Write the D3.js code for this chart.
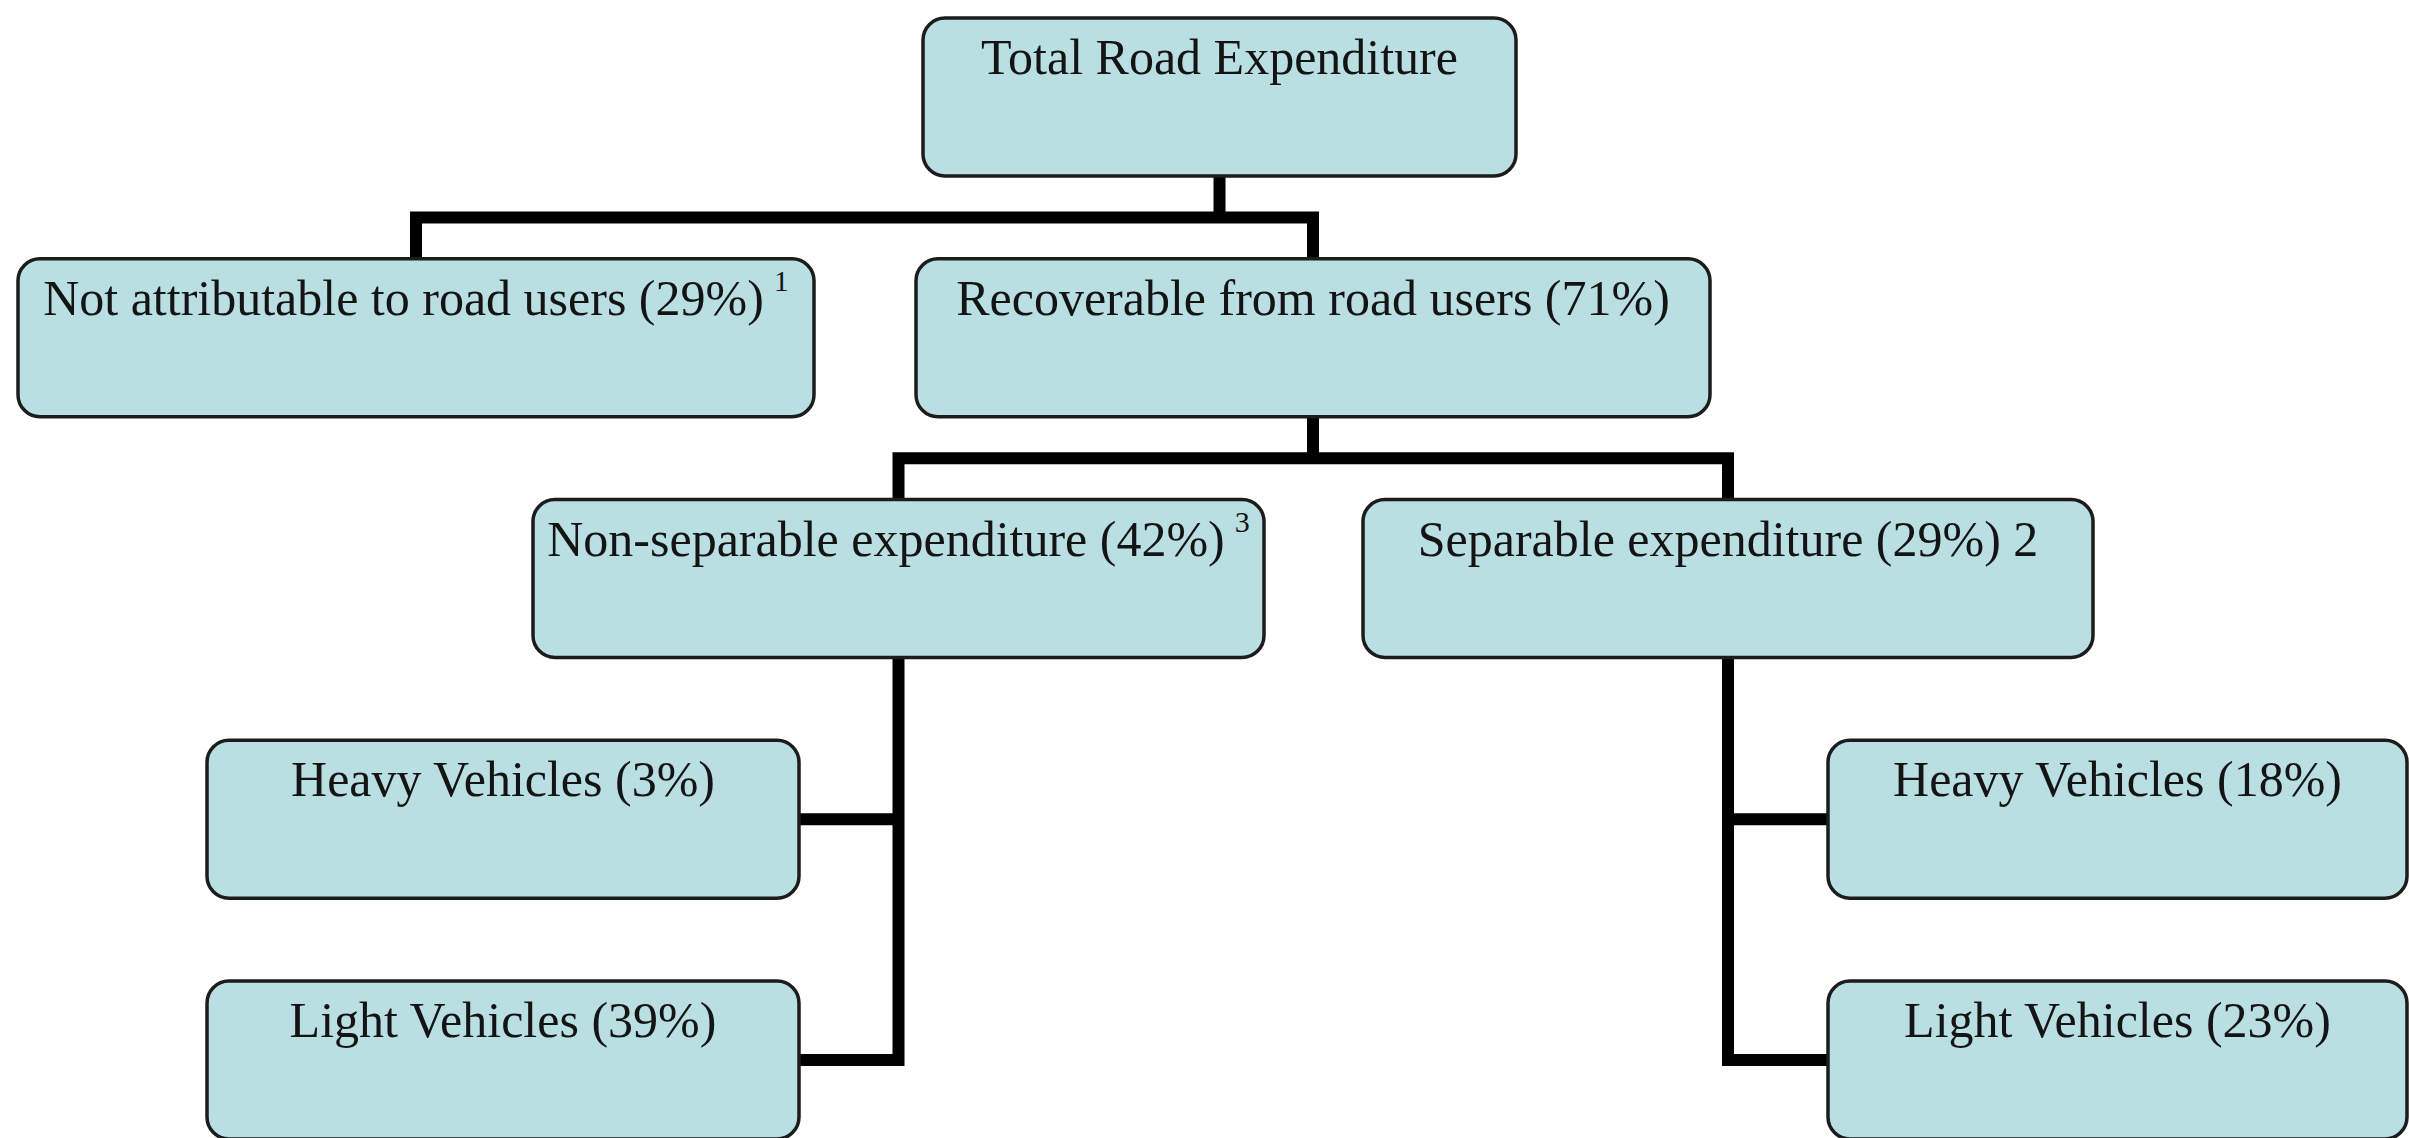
<!DOCTYPE html>
<html>
<head>
<meta charset="utf-8">
<script src="https://cdn.jsdelivr.net/npm/d3@7"></script>
<style>
   html, body { margin: 0; padding: 0; background: #fff; }
   svg { display: block; }
</style>
</head>
<body>
<svg width="2409" height="1138"></svg>
<script>
// DATA
var nodeIds = ['total', 'notAttr', 'recov', 'nonSep', 'sep', 'heavyNS', 'lightNS', 'heavyS', 'lightS'];
var nodeParents = ['', 'total', 'total', 'recov', 'recov', 'nonSep', 'nonSep', 'sep', 'sep'];
var nodeLabels = [
   'Total Road Expenditure',
   'Not attributable to road users',
   'Recoverable from road users',
   'Non-separable expenditure',
   'Separable expenditure',
   'Heavy Vehicles',
   'Light Vehicles',
   'Heavy Vehicles',
   'Light Vehicles'
];
var nodeShares = [null, 29, 71, 42, 29, 3, 39, 18, 23];
var nodeNotes = ['', '1', '', '3', '2', '', '', '', ''];
var nodeNoteIsSup = [false, true, false, true, false, false, false, false, false];

(function () {
   var svg = d3.select('svg');

   // LAYOUT (box columns and rows, kept apart from the data)
   var boxLayout = {
      total:   {x0: 923,  x1: 1516, row: 0},
      notAttr: {x0: 18,   x1: 814,  row: 1},
      recov:   {x0: 916,  x1: 1710, row: 1},
      nonSep:  {x0: 533,  x1: 1264, row: 2},
      sep:     {x0: 1363, x1: 2093, row: 2},
      heavyNS: {x0: 207,  x1: 799,  row: 3},
      lightNS: {x0: 207,  x1: 799,  row: 4},
      heavyS:  {x0: 1828, x1: 2407, row: 3},
      lightS:  {x0: 1828, x1: 2407, row: 4}
   };
   // children of these nodes hang off a side stem instead of a bar
   var hangingParents = ['nonSep', 'sep'];

   var boxHeight = 158;
   var rowScale = d3.scaleLinear().domain([0, 4]).range([18, 981]);

   var table = nodeIds.map(function (id, i) {
      return {
         id: id,
         parent: nodeParents[i] || null,
         label: nodeLabels[i],
         share: nodeShares[i],
         note: nodeNotes[i],
         sup: nodeNoteIsSup[i]
      };
   });

   var root = d3.stratify()
      .id(function (d) { return d.id; })
      .parentId(function (d) { return d.parent; })(table);

   root.each(function (n) {
      var b = boxLayout[n.id];
      n.x0 = b.x0;
      n.x1 = b.x1;
      n.cx = (b.x0 + b.x1) / 2;
      n.top = rowScale(b.row);
      n.bottom = n.top + boxHeight;
      n.cy = n.top + boxHeight / 2;
   });

   // CONNECTORS
   var connectors = svg.append('g')
      .attr('fill', 'none')
      .attr('stroke', '#000')
      .attr('stroke-width', 12)
      .attr('stroke-linejoin', 'miter');

   root.descendants().filter(function (n) { return n.children; }).forEach(function (p) {
      var kids = p.children, path = d3.path();

      if (hangingParents.indexOf(p.id) >= 0) {
         var last = kids[kids.length - 1];
         var toRight = last.cx > p.cx;
         path.moveTo(p.cx, p.bottom);
         path.lineTo(p.cx, last.cy);
         path.lineTo(toRight ? last.x0 : last.x1, last.cy);
         kids.slice(0, -1).forEach(function (k) {
            path.moveTo(p.cx, k.cy);
            path.lineTo(toRight ? k.x0 : k.x1, k.cy);
         });
      } else {
         var midY = (p.bottom + kids[0].top) / 2;
         var first = kids[0], lastK = kids[kids.length - 1];
         path.moveTo(p.cx, p.bottom);
         path.lineTo(p.cx, midY);
         path.moveTo(first.cx, first.top);
         path.lineTo(first.cx, midY);
         path.lineTo(lastK.cx, midY);
         path.lineTo(lastK.cx, lastK.top);
         kids.slice(1, -1).forEach(function (k) {
            path.moveTo(k.cx, midY);
            path.lineTo(k.cx, k.top);
         });
      }

      connectors.append('path').attr('d', path.toString());
   });

   // BOXES
   var nodes = svg.append('g').selectAll('.node')
      .data(root.descendants())
      .enter().append('g')
      .attr('class', 'node');

   nodes.append('rect')
      .attr('x', function (d) { return d.x0; })
      .attr('y', function (d) { return d.top; })
      .attr('width', function (d) { return d.x1 - d.x0; })
      .attr('height', boxHeight)
      .attr('rx', 22)
      .attr('ry', 22)
      .attr('fill', '#badfe3')
      .attr('stroke', '#1c1c1c')
      .attr('stroke-width', 3.5);

   var labels = nodes.append('text')
      .attr('x', function (d) { return d.cx; })
      .attr('y', function (d) { return d.top + 56; })
      .attr('text-anchor', 'middle')
      .attr('fill', '#141414')
      .style('font-family', '"Liberation Serif", "Times New Roman", serif')
      .style('font-size', '50px');

   labels.append('tspan')
      .text(function (d) {
         var t = d.data.label;
         if (d.data.share !== null) t += ' (' + d.data.share + '%)';
         if (d.data.note && !d.data.sup) t += ' ' + d.data.note;
         return t;
      });

   labels.filter(function (d) { return d.data.note && d.data.sup; })
      .append('tspan')
      .attr('dx', 10)
      .attr('dy', -24)
      .style('font-size', '30px')
      .text(function (d) { return d.data.note; });
})();
</script>
</body>
</html>
